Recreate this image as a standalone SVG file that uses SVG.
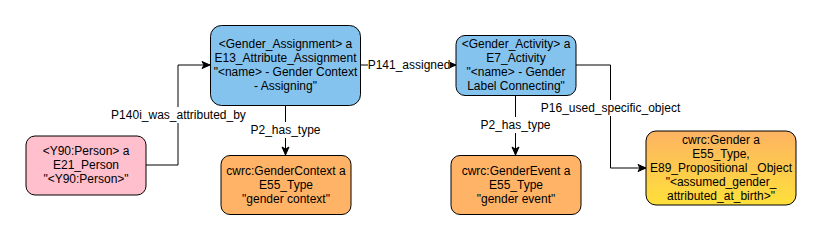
<svg xmlns="http://www.w3.org/2000/svg" width="821" height="241" viewBox="0 0 821 241">
<style>
  .node rect { stroke: #000; stroke-width: 1; }
  .blue { fill: #85C3EF; }
  .pink { fill: #FFBFCC; }
  .orange { fill: #FFB366; }
  text { font-family: "Liberation Sans", Arial, Helvetica, sans-serif; font-size: 12px; fill: #000; text-anchor: middle; }
  .edge { fill: none; stroke: #000; stroke-width: 1; }
  .lbl-bg { fill: #fff; }
</style>
<defs>
  <marker id="arr" markerUnits="userSpaceOnUse" markerWidth="10" markerHeight="10" refX="9" refY="5" orient="auto">
    <path d="M1,1.5 L9,5 L1,8.5 L3,5 Z" fill="#000" stroke="#000" stroke-width="1"/>
  </marker>
  <linearGradient id="grad" x1="0" y1="0" x2="0" y2="1">
    <stop offset="0" stop-color="#FDB363"/>
    <stop offset="1" stop-color="#FFE03A"/>
  </linearGradient>
</defs>
<rect width="821" height="241" fill="#fff"/>

<g id="connectors">
  <path class="edge" d="M146,165 H178 V65 H210" marker-end="url(#arr)"/>
  <path class="edge" d="M285.5,105 V155" marker-end="url(#arr)"/>
  <path class="edge" d="M361,65 H456" marker-end="url(#arr)"/>
  <path class="edge" d="M515.5,95 V155" marker-end="url(#arr)"/>
  <path class="edge" d="M576,65 H610.5 V168 H646" marker-end="url(#arr)"/>
  <g id="edge-labels">
    <rect class="lbl-bg" x="111" y="107" width="135" height="16"/>
    <text x="178.5" y="119.3">P140i_was_attributed_by</text>
    <rect class="lbl-bg" x="250" y="122" width="71" height="16"/>
    <text x="285.5" y="134.3">P2_has_type</text>
    <rect class="lbl-bg" x="368" y="57" width="82" height="16"/>
    <text x="409" y="69.3">P141_assigned</text>
    <rect class="lbl-bg" x="480" y="117" width="71" height="16"/>
    <text x="515.5" y="129.3">P2_has_type</text>
    <rect class="lbl-bg" x="539" y="100" width="143" height="16"/>
    <text x="610.5" y="112.3">P16_used_specific_object</text>
  </g>
</g>

<g id="gender-assignment" class="node">
  <rect class="blue" x="210.5" y="25.5" width="150" height="80" rx="11"/>
  <text x="285.5" y="48.3">&lt;Gender_Assignment&gt; a</text>
  <text x="285.5" y="62.3">E13_Attribute_Assignment</text>
  <text x="285.5" y="76.3">"&lt;name&gt; - Gender Context</text>
  <text x="285.5" y="90.3">- Assigning"</text>
</g>

<g id="person" class="node">
  <rect class="pink" x="26" y="136" width="120" height="59" rx="9"/>
  <text x="86" y="155.3">&lt;Y90:Person&gt; a</text>
  <text x="86" y="169.3">E21_Person</text>
  <text x="86" y="183.3">"&lt;Y90:Person&gt;"</text>
</g>

<g id="gender-context" class="node">
  <rect class="orange" x="221" y="155.5" width="130" height="59" rx="9"/>
  <text x="286" y="175.3">cwrc:GenderContext a</text>
  <text x="286" y="189.3">E55_Type</text>
  <text x="286" y="203.3">"gender context"</text>
</g>

<g id="gender-activity" class="node">
  <rect class="blue" x="456" y="35.5" width="120" height="60" rx="9"/>
  <text x="516" y="48.3">&lt;Gender_Activity&gt; a</text>
  <text x="516" y="62.3">E7_Activity</text>
  <text x="516" y="76.3">"&lt;name&gt; - Gender</text>
  <text x="516" y="90.3">Label Connecting"</text>
</g>

<g id="gender-event" class="node">
  <rect class="orange" x="451" y="155.5" width="130" height="59" rx="9"/>
  <text x="516" y="175.3">cwrc:GenderEvent a</text>
  <text x="516" y="189.3">E55_Type</text>
  <text x="516" y="203.3">"gender event"</text>
</g>

<g id="gender" class="node">
  <rect x="646" y="131" width="150" height="74" rx="10" fill="url(#grad)"/>
  <text x="721" y="144.3">cwrc:Gender a</text>
  <text x="721" y="158.3">E55_Type,</text>
  <text x="721" y="172.3">E89_Propositional _Object</text>
  <text x="721" y="186.3">"&lt;assumed_gender_</text>
  <text x="721" y="200.3">attributed_at_birth&gt;"</text>
</g>
</svg>
